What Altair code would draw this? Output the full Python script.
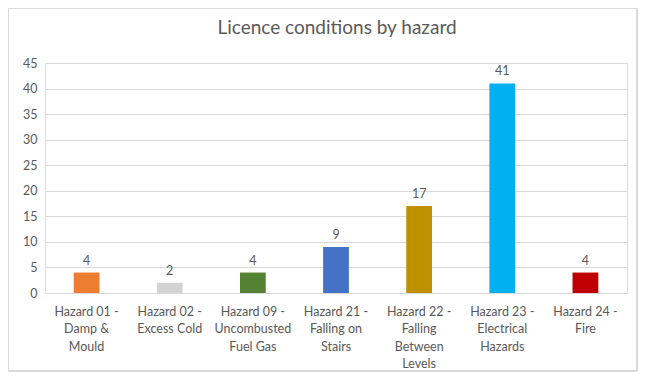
import altair as alt
import pandas as pd

title_text = "Licence conditions by hazard"
categories = [
    "Hazard 01 -\nDamp &\nMould",
    "Hazard 02 -\nExcess Cold",
    "Hazard 09 -\nUncombusted\nFuel Gas",
    "Hazard 21 -\nFalling on\nStairs",
    "Hazard 22 -\nFalling\nBetween\nLevels",
    "Hazard 23 -\nElectrical\nHazards",
    "Hazard 24 -\nFire",
]
values = [4, 2, 4, 9, 17, 41, 4]
colors = ["#ED7D31", "#D3D3D3", "#548235", "#4472C4", "#BF9000", "#00B0F0", "#C00000"]
y_ticks = [0, 5, 10, 15, 20, 25, 30, 35, 40, 45]

df = pd.DataFrame({"cat": categories, "val": values, "color": colors})
tdf = pd.DataFrame({"t": [title_text]})

FONT = "Lato"
GREY = "#595959"

x = alt.X("cat:N", sort=categories, title=None,
          scale=alt.Scale(paddingInner=0.69, paddingOuter=0.345),
          axis=alt.Axis(labelExpr="split(datum.label, '\\n')", labelAngle=0,
                        labelFontSize=12.5, labelColor=GREY, labelFont=FONT,
                        labelLineHeight=17.5, labelPadding=12, ticks=False,
                        domain=False, grid=False, labelBaseline="top"))
y = alt.Y("val:Q", title=None,
          scale=alt.Scale(domain=[0, 45], nice=False),
          axis=alt.Axis(values=y_ticks, labelFontSize=12.5,
                        labelColor=GREY, labelFont=FONT, ticks=False, domain=False,
                        labelOverlap=False,
                        gridColor="#D9D9D9", gridWidth=1, labelPadding=8))

bars = alt.Chart(df).mark_bar().encode(
    x=x, y=y, color=alt.Color("color:N", scale=None)
)
labels = alt.Chart(df).mark_text(dy=-12, fontSize=12.5, color=GREY, font=FONT).encode(
    x=x, y=y, text="val:Q"
)
border = alt.Chart(df).mark_rect(fill=None, stroke="#D9D9D9", strokeWidth=1).encode(
    x=alt.value(-37), x2=alt.value(592), y=alt.value(-55), y2=alt.value(308)
)
title = alt.Chart(tdf).mark_text(fontSize=19, font=FONT, color=GREY,
                                 baseline="middle", align="center").encode(
    x=alt.value(292), y=alt.value(-35), text="t:N"
)

chart = alt.layer(bars, labels, border, title).properties(
    width=582, height=230,
    autosize=alt.AutoSizeParams(type="none"),
    padding={"left": 37, "top": 55, "right": 11, "bottom": 79},
).configure_view(stroke=None).configure(background="white")

chart.save("out.html", embed_options={"renderer": "svg", "actions": False})
